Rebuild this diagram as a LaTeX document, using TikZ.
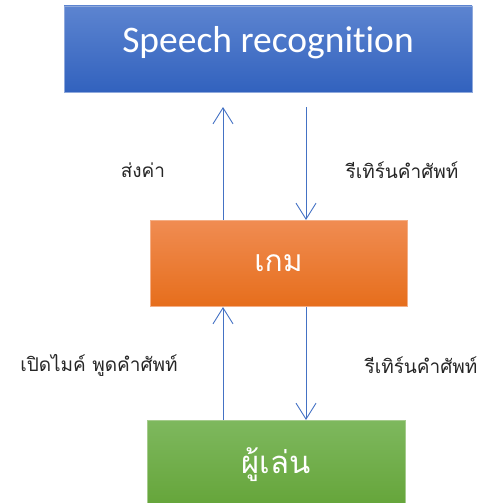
\documentclass[tikz,border=0pt]{standalone}
\usepackage{fontspec}
\setmainfont{Carlito}[Ligatures=NoCommon]
\newfontfamily\thaifont[Script=Thai]{Loma}
\usetikzlibrary{arrows.meta}
\definecolor{arrowblue}{HTML}{4472C4}
\definecolor{labeltext}{HTML}{262626}
\definecolor{srborder}{HTML}{8FA9DC}
\definecolor{gameborder}{HTML}{F4AE85}
\definecolor{playerborder}{HTML}{A5CB8C}
\tikzset{
  box/.style={rectangle, inner sep=0pt, text=white, draw=#1, line width=0.8pt},
  flow/.style={draw=arrowblue, line width=0.9pt, -{Straight Barb[length=16pt,width=20pt,line width=0.9pt]}},
  lbl/.style={text=labeltext, font=\thaifont\fontsize{19}{22}\selectfont, inner sep=0pt}
}
\begin{document}
\begin{tikzpicture}[x=1pt,y=-1pt]
\useasboundingbox (0,0) rectangle (483,503);
% boxes
\node[box=srborder, top color={rgb,255:red,92;green,132;blue,208}, bottom color={rgb,255:red,50;green,98;blue,190},
  minimum width=408pt, minimum height=86pt] (sr) at (268,49) {};
\node[text=white, font=\fontsize{37.5}{44}\selectfont, inner sep=0pt] (srt) at (268,43) {Speech recognition};
\node[box=gameborder, top color={rgb,255:red,240;green,140;blue,82}, bottom color={rgb,255:red,230;green,110;blue,28},
  minimum width=257pt, minimum height=86pt, font=\thaifont\fontsize{30}{36}\selectfont] (game) at (278.5,263) {เกม};
\node[box=playerborder, top color={rgb,255:red,126;green,184;blue,94}, bottom color={rgb,255:red,100;green,164;blue,56},
  minimum width=258pt, minimum height=90pt, font=\thaifont\fontsize{31}{37}\selectfont] (player) at (276,465) {ผู้เล่น};
% anchor coordinates
\coordinate (a1s) at (223,220);
\coordinate (a1e) at (223,107);
\coordinate (a2s) at (306,107);
\coordinate (a2e) at (306,220);
\coordinate (a3s) at (223,420);
\coordinate (a3e) at (223,307);
\coordinate (a4s) at (306,307);
\coordinate (a4e) at (306,420);
\draw[flow] (a1s) -- (a1e);
\draw[flow] (a2s) -- (a2e);
\draw[flow] (a3s) -- (a3e);
\draw[flow] (a4s) -- (a4e);
% labels
\node[lbl] (l1) at (143,170) {ส่งค่า};
\node[lbl] (l2) at (402,170) {รีเทิร์นคำศัพท์};
\node[lbl] (l3) at (99,365) {เปิดไมค์ พูดคำศัพท์};
\node[lbl] (l4) at (421,365) {รีเทิร์นคำศัพท์};
\end{tikzpicture}
\end{document}
